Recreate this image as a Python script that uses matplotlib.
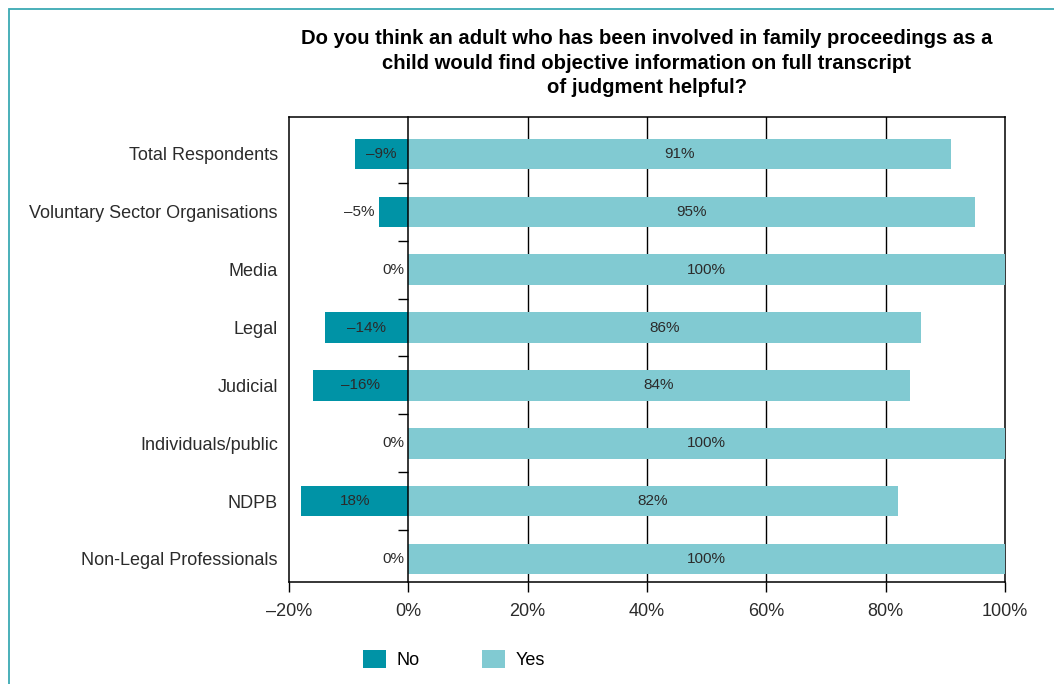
import matplotlib.pyplot as plt
from matplotlib.patches import Rectangle

plt.rcParams['font.family'] = ['Liberation Sans', 'DejaVu Sans']

categories = ['Total Respondents', 'Voluntary Sector Organisations', 'Media', 'Legal',
              'Judicial', 'Individuals/public', 'NDPB', 'Non-Legal Professionals']
no_vals = [-9, -5, 0, -14, -16, 0, -18, 0]
yes_vals = [91, 95, 100, 86, 84, 100, 82, 100]
no_labels = ['–9%', '–5%', '0%', '–14%', '–16%', '0%', '18%', '0%']
yes_labels = ['91%', '95%', '100%', '86%', '84%', '100%', '82%', '100%']
xticks = [-20, 0, 20, 40, 60, 80, 100]
xticklabels = ['–20%', '0%', '20%', '40%', '60%', '80%', '100%']

c_no = '#0093a6'
c_yes = '#81cad2'
c_text = '#2b2b2b'

fig = plt.figure(figsize=(10.54, 6.84), dpi=100)
ax = fig.add_axes([0.2742, 0.149, 0.6793, 0.680])

# outer frame
fig.add_artist(Rectangle((0.0085, -0.2), 1.2, 1.1868, transform=fig.transFigure,
                         fill=False, edgecolor='#3aa9b3', lw=1.3))

y = list(range(len(categories)))
h = 0.53
ax.barh(y, no_vals, height=h, color=c_no, zorder=3, label='No')
ax.barh(y, yes_vals, height=h, color=c_yes, zorder=3, label='Yes')

for i in y:
    v = no_vals[i]
    if abs(v) > 6:
        ax.text(v / 2, i, no_labels[i], ha='center', va='center',
                fontsize=11, color=c_text, zorder=4)
    else:
        ax.annotate(no_labels[i], (v, i), xytext=(-3, 0), textcoords='offset points',
                    ha='right', va='center', fontsize=11, color=c_text, zorder=4)
    ax.text(yes_vals[i] / 2, i, yes_labels[i], ha='center', va='center',
            fontsize=11, color=c_text, zorder=4)

ax.set_xlim(-20, 100)
ax.set_ylim(7.4, -0.64)
ax.set_xticks(xticks)
ax.set_xticklabels(xticklabels, fontsize=13, color=c_text)
ax.set_yticks(y)
ax.set_yticklabels(categories, fontsize=13, color=c_text)
ax.tick_params(axis='y', length=0, pad=8)
ax.tick_params(axis='x', direction='out', length=7, width=1, pad=8)

for x in xticks[2:-1]:
    ax.axvline(x, color='black', lw=1, zorder=1)
for s in ax.spines.values():
    s.set_color('black')
    s.set_linewidth(1.1)

# zero line with small ticks between the categories
zero_ax = ax.secondary_yaxis(20 / 120)
zero_ax.set_yticks([i + 0.5 for i in y[:-1]])
zero_ax.set_yticklabels([])
zero_ax.tick_params(direction='out', length=7, width=1, color='black')
zero_ax.spines['left'].set_color('black')
zero_ax.spines['left'].set_linewidth(1.1)
zero_ax.set_zorder(5)

ax.set_title('Do you think an adult who has been involved in family proceedings as a\n'
             'child would find objective information on full transcript\n'
             'of judgment helpful?', fontsize=14.6, fontweight='bold', pad=17,
             linespacing=1.38)

ax.legend(loc='center left', bbox_to_anchor=(0.103, -0.166), ncol=2, frameon=False,
          fontsize=13, handlelength=1.28, handleheight=1.22, columnspacing=3.45,
          handletextpad=0.6, borderpad=0, borderaxespad=0)

fig.savefig('out.png', dpi=100)
